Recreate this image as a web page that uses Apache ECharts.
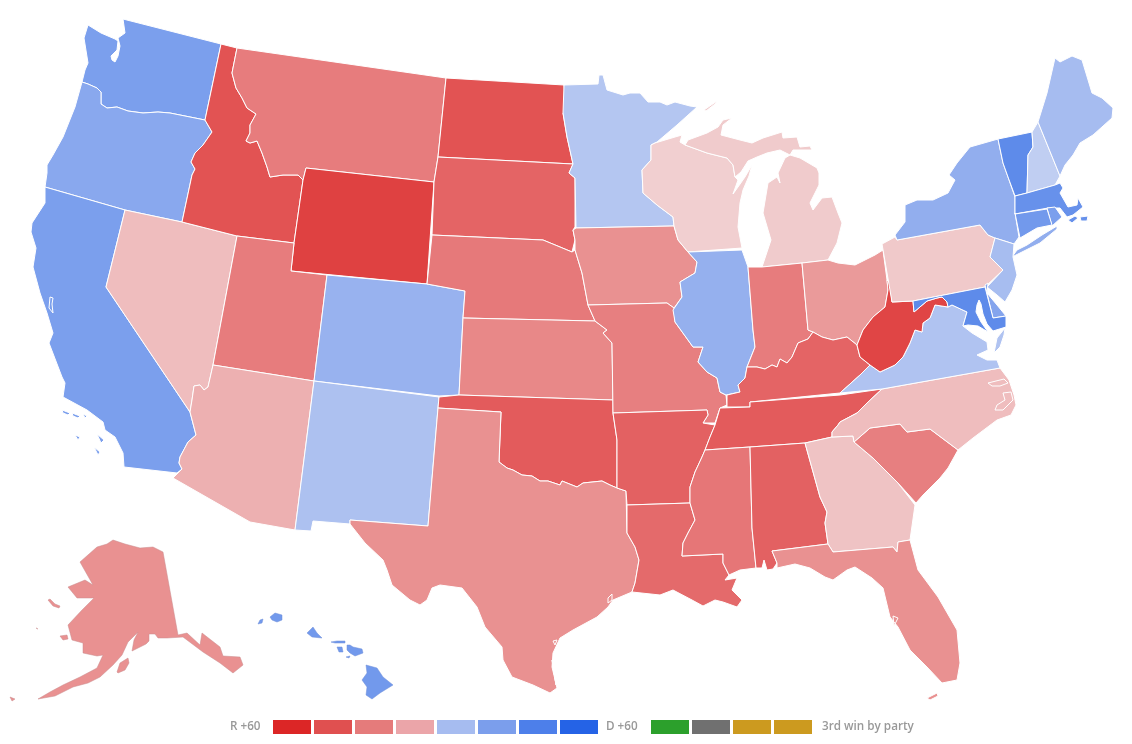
<!DOCTYPE html>
<html>
<head>
<meta charset="utf-8">
<script src="https://cdn.jsdelivr.net/npm/echarts@6/dist/echarts.min.js"></script>
<style>html,body{margin:0;padding:0;background:#fff}#c{width:1132px;height:744px}</style>
</head>
<body>
<div id="c"></div>
<script>
// margin of each state, read from its shade: negative = Republican, positive = Democratic
const stateNames = ['Washington','Oregon','California','Nevada','Idaho','Montana','Wyoming','Utah','Arizona','Colorado','New Mexico','North Dakota','South Dakota','Nebraska','Kansas','Oklahoma','Texas','Minnesota','Iowa','Missouri','Arkansas','Louisiana','Wisconsin','Illinois','Michigan','Indiana','Ohio','Kentucky','Tennessee','Mississippi','Alabama','Georgia','Florida','South Carolina','North Carolina','Virginia','West Virginia','Pennsylvania','New York','Vermont','New Hampshire','Maine','Massachusetts','Rhode Island','Connecticut','New Jersey','Delaware','Maryland','Alaska','Hawaii'];
const stateMargins = [30,25,30,-9,-45,-31,-51,-31,-13.5,20,12.5,-45,-39,-32,-27,-42,-24,10,-24,-30,-40,-37,-3,21,-4.5,-31,-21,-39,-42,-33,-40,-7,-24,-30,-9,11.5,-49.5,-5,22,40,6,15,37,30,33,14.6,27,40,-24,33];
const legendLeft = 'R +60';
const legendMid = 'D +60';
const legendRight = '3rd win by party';
const legendShades = ['#dc2626','#e05050','#e57b7b','#eba5a9','#a6bcf0','#7b9eec','#4d7fea','#2563e6'];
const legendThird = ['#2ca02c','#707070','#cc9a1f','#cc9a1f'];
const redStops = [[0,242,216,217],[60,220,38,38]];
const blueStops = [[0,209,218,243],[60,37,99,230]];

// Outlines of the states
const stateShapes = {
'Washington':['123,19 221,44 205,120 170,113 158,112 143,113 128,111 117,107 107,108 101,104 101,92 97,88 88,84 82,82 85,70 88,63 84,38 88,25 101,33 115,39 118,41 117,50 111,56 112,60 115,62 118,56 120,46 118,38 125,33'],
'Oregon':['82,82 88,84 97,88 101,92 101,104 107,108 117,107 128,111 143,113 158,112 170,113 205,120 212,132 203,145 195,153 191,162 195,169 192,175 182,222 125,210 45,187 47,173 47,165 53,155 63,137 75,107'],
'California':['45,187 125,210 106,287 190,412 196,435 188,442 180,457 179,463 182,469 177,473 124,467 123,453 115,437 105,430 103,422 87,410 63,397 65,383 62,377 49,343 53,333 47,313 40,293 33,267 36,248 31,232 32,223 45,203;50,297 53,298 52,304 53,313 49,308','62,410 70,413 68,415 63,413','72,413 80,416 78,418 73,416','83,414 87,416 85,418','75,435 80,437 78,440','97,434 104,440 101,443','94,447 100,452 98,455'],
'Nevada':['125,210 182,222 237,236 213,365 208,387 204,390 200,385 194,386 192,400 190,412 106,287'],
'Idaho':['221,44 237,48 232,73 236,88 242,98 247,108 256,114 250,125 250,133 246,141 250,143 257,141 262,153 267,167 270,177 283,175 298,175 303,180 294,243 237,236 182,222 192,175 195,169 191,162 195,153 203,145 212,132 205,120'],
'Montana':['237,48 446,78 438,157 434,182 306,168 303,180 298,175 283,175 270,177 267,167 262,153 257,141 250,143 246,141 250,133 250,125 256,114 247,108 242,98 236,88 232,73'],
'Wyoming':['306,168 434,182 427,284 291,271 294,243 303,180'],
'Utah':['237,236 294,243 291,271 327,275 314,381 213,365'],
'Arizona':['213,365 314,381 295,530 250,522 173,478 182,469 179,463 180,457 188,442 196,435 190,412 192,400 194,386 200,385 204,390 208,387'],
'Colorado':['327,275 427,284 465,291 463,318 459,395 439,396 314,381'],
'New Mexico':['314,381 439,397 438,408 428,526 350,520 350,524 313,521 311,531 295,530'],
'North Dakota':['446,78 564,85 567,110 563,113 567,137 573,164 438,157'],
'South Dakota':['438,157 573,164 569,173 575,178 575,227 573,230 575,240 572,252 560,247 543,240 432,235 434,182'],
'Nebraska':['432,235 543,240 560,247 572,252 575,250 582,273 588,305 595,321 463,318 465,291 427,284'],
'Kansas':['463,318 595,321 603,327 607,330 603,333 612,343 613,400 459,395'],
'Oklahoma':['439,397 459,395 613,400 613,413 617,440 617,488 610,485 602,481 583,483 577,487 562,481 560,485 548,481 540,481 532,476 522,475 513,470 507,468 499,462 501,412 438,408'],
'Texas':['438,408 501,412 499,462 507,468 513,470 522,475 532,476 540,481 548,481 560,485 562,481 577,487 583,483 602,481 610,485 617,488 626,491 627,533 635,547 639,560 635,583 632,592 613,600 608,607 597,617 573,630 560,638 553,653 552,667 557,688 550,693 533,685 512,677 503,660 502,647 485,627 477,607 462,588 440,585 432,588 427,600 420,605 410,600 392,585 387,570 383,560 365,543 350,524 350,520 428,526;608,598 612,594 612,600 608,603;552,660 553,660 556,685 555,685;553,641 557,640 555,645'],
'Minnesota':['564,85 598,84 599,75 603,75 607,90 623,95 630,93 640,93 648,102 660,102 667,105 675,102 690,106 697,107 677,125 657,142 651,145 651,160 642,170 643,193 657,205 673,217 674,226 576,228 575,178 569,173 573,164 567,137 563,113'],
'Iowa':['576,228 674,226 678,240 688,252 697,262 695,273 680,282 682,297 674,308 667,303 588,305 582,273 575,250 575,240 573,230'],
'Missouri':['588,305 667,303 674,308 675,322 693,347 703,347 698,362 707,372 717,378 720,392 726,395 727,405 720,408 715,423 703,423 708,415 707,410 613,413 612,343 603,333 607,330 603,327 595,321'],
'Arkansas':['613,413 707,410 708,415 703,423 715,425 710,437 705,450 702,457 695,472 690,487 690,503 627,505 626,491 617,488 617,440'],
'Louisiana':['627,505 690,503 695,520 688,533 683,543 682,556 723,554 723,563 729,575 725,580 737,578 732,590 742,600 737,607 723,602 715,600 703,606 692,600 673,590 660,595 632,592 635,583 639,560 635,547 627,533'],
'Wisconsin':['651,145 655,143 675,137 682,135 680,142 685,145 707,153 727,158 733,165 735,177 738,180 733,194 738,187 745,177 752,165 749,176 743,190 740,203 738,227 742,248 688,252 678,240 674,226 673,217 657,205 643,193 642,170 651,160'],
'Illinois':['688,252 742,250 748,267 753,330 755,347 747,367 745,378 738,385 740,392 726,395 720,392 717,378 707,372 698,362 703,347 693,347 675,322 673,310 682,297 680,282 695,273 697,262'],
'Michigan':['685,145 688,140 707,133 718,127 723,120 732,118 723,125 721,135 740,140 752,143 763,138 782,132 783,138 797,137 800,147 810,146 812,150 793,150 790,155 780,150 767,153 757,157 748,161 741,172 735,177 733,165 727,158 707,153','790,155 800,158 817,168 819,173 819,185 810,203 813,210 822,198 832,197 838,213 842,223 837,243 828,260 802,263 762,267 771,240 763,213 768,183 777,177 780,183 778,173 785,158','704,110 717,101 715,104 706,111'],
'Indiana':['748,267 762,267 802,263 808,330 813,332 808,339 798,343 792,357 787,363 780,359 777,367 772,365 765,369 757,367 747,367 755,347 753,330'],
'Ohio':['802,263 828,260 838,263 855,265 875,255 883,250 887,280 888,290 885,307 873,317 863,330 857,345 847,337 833,340 822,337 813,332 808,330'],
'Kentucky':['727,407 727,395 740,392 738,385 745,378 747,367 757,367 765,369 772,365 777,367 780,359 787,363 792,357 798,343 808,339 813,332 822,337 833,340 847,337 857,345 860,357 870,365 860,375 840,393 750,402 750,407'],
'Tennessee':['720,408 750,407 750,402 840,395 882,389 867,403 857,413 840,422 838,425 832,432 832,437 805,443 750,447 705,450 710,437 715,425'],
'Mississippi':['705,450 750,447 752,528 756,568 740,570 729,575 723,563 723,554 682,556 683,543 688,533 695,520 690,503 690,487 695,472 702,457'],
'Alabama':['750,447 805,443 820,497 827,512 825,523 828,544 772,551 777,563 773,569 767,570 764,560 762,568 756,568 752,528'],
'Georgia':['805,443 832,437 853,436 854,442 873,458 898,483 915,505 910,540 898,542 897,552 893,547 833,552 828,544 825,523 827,512 820,497'],
'Florida':['772,551 828,544 833,552 893,547 897,552 898,542 910,540 918,570 938,597 957,630 960,663 957,680 942,683 927,667 910,650 898,627 890,617 883,588 872,578 855,567 847,570 833,580 825,577 810,568 795,564 777,568 777,563;893,616 898,618 894,626','927,698 937,693 938,696 930,700'],
'South Carolina':['854,442 870,428 900,424 907,432 930,429 958,450 948,468 940,478 923,495 916,503 898,483 873,458'],
'North Carolina':['882,389 1000,368 1009,380 1014,395 1016,405 1011,415 997,420 973,438 958,450 930,429 907,432 900,424 870,428 854,442 853,436 832,437 832,432 838,425 840,422 857,413 867,403;988,383 1004,379 1008,383 1000,386 992,386;1003,393 1011,392 1013,400 1003,410 995,410 997,405 1005,400'],
'Virginia':['948,307 952,305 967,312 963,326 972,333 987,342 988,350 977,355 987,360 997,360 1000,368 882,389 840,393 860,375 870,365 880,372 895,365 903,357 910,343 915,330 922,332 923,323 930,318 935,305','1005,328 1004,335 1000,347 994,353 997,338'],
'West Virginia':['887,280 890,283 892,302 913,301 914,312 927,301 937,298 942,297 947,302 948,307 935,305 930,318 923,323 922,332 915,330 910,343 903,357 895,365 880,372 870,365 860,357 857,345 863,330 873,317 885,307 888,290'],
'Pennsylvania':['882,244 895,237 897,240 980,225 988,235 995,238 990,257 1003,270 985,287 913,301 892,302'],
'New York':['897,240 895,235 905,222 905,205 917,200 933,200 948,193 955,180 949,175 957,163 970,147 998,139 1003,163 1008,177 1015,197 1015,213 1019,237 1014,244 995,238 988,235 980,225','1012,257 1017,250 1027,245 1042,235 1057,226 1057,229 1040,243 1020,253'],
'Vermont':['998,139 1032,132 1033,147 1028,155 1027,193 1015,196 1008,177 1003,163'],
'New Hampshire':['1032,132 1038,122 1060,176 1055,185 1027,193 1028,155 1033,147'],
'Maine':['1038,122 1047,93 1055,58 1060,62 1072,56 1082,60 1092,93 1102,98 1113,108 1112,118 1093,135 1080,143 1073,155 1065,165 1060,176'],
'Massachusetts':['1015,196 1027,193 1055,185 1060,183 1063,188 1060,193 1068,207 1077,205 1078,198 1083,207 1073,215 1067,217 1060,208 1048,208 1015,214','1068,220 1075,216 1078,218 1072,223','1080,217 1088,216 1087,221 1081,221'],
'Rhode Island':['1047,208 1055,207 1062,217 1052,226'],
'Connecticut':['1015,214 1047,209 1052,225 1037,228 1020,238 1015,213'],
'New Jersey':['995,238 1014,244 1013,257 1017,275 1012,290 1005,302 997,295 987,287 1003,270 990,257'],
'Delaware':['985,285 988,283 987,293 997,305 1006,316 993,318'],
'Maryland':['913,301 985,287 993,318 1006,316 1006,327 993,331 987,324 983,314 981,304 979,300 977,305 976,312 981,322 988,332 978,326 968,325 963,326 967,312 952,305 948,307 947,302 942,297 937,298 927,301 914,312'],
'Alaska':['113,540 125,544 140,548 153,547 163,552 178,635 187,633 200,645 202,633 220,647 223,656 240,657 243,665 233,673 220,663 203,652 183,637 167,638 158,638 155,634 149,634 149,641 146,644 132,651 134,640 138,632 128,642 122,655 113,665 100,677 88,683 73,687 55,696 38,699 50,692 63,685 80,677 97,668 103,655 97,656 83,653 83,643 72,640 68,625 82,610 94,598 77,598 68,587 85,580 93,585 80,562 97,547 107,544','48,600 50,599 55,604 60,606 59,608 53,606','60,636 67,635 68,639 63,640','117,672 120,663 128,658 129,663 125,670 118,673','10,697 15,699 12,701','36,628 38,629 37,630'],
'Hawaii':['270,617 275,613 282,615 282,620 277,622 272,620','258,624 260,620 263,619 262,623','307,633 313,627 317,633 322,638 312,637','331,642 337,641 345,641 345,643 335,643','337,647 342,647 343,652 339,652','347,645 350,645 353,647 362,649 363,653 355,656 350,653 347,650','346,657 350,656 349,658','366,665 377,668 383,677 393,685 380,693 372,699 366,695 367,687 362,680 367,673']
};
const thinEdged = {'Alaska':'#c98a8c','Hawaii':'#6f8fd8'};

function parseRing(s){return s.trim().split(/\s+/).map(function(p){return p.split(',').map(Number);});}
function closeRing(r){r.push(r[0].slice());return r;}
const geoFeatures = stateNames.map(function(name){
  return {type:'Feature',properties:{name:name},geometry:{type:'MultiPolygon',coordinates:stateShapes[name].map(function(part){
    return part.split(';').map(function(r){return closeRing(parseRing(r));});
  })}};
});
echarts.registerMap('usa',{type:'FeatureCollection',features:geoFeatures});

function shade(v){
  const st = v<0 ? redStops : blueStops, t = Math.min(Math.abs(v),60)/60;
  const c = [1,2,3].map(function(i){return Math.round(st[0][i]+(st[1][i]-st[0][i])*t);});
  return 'rgb('+c.join(',')+')';
}

const chart = echarts.init(document.getElementById('c'),null,{renderer:'canvas'});
const swatchY = 720, swatchH = 14, swatchW = 38, swatchStep = 41;
const textStyle = function(x,t){return {type:'text',x:x,y:swatchY+7,style:{text:t,fill:'#999',font:'600 11.7px "Open Sans"',textAlign:'left',textVerticalAlign:'middle'}};};
const gfx = [textStyle(230,legendLeft),textStyle(606,legendMid),textStyle(822,legendRight)];
legendShades.forEach(function(c,i){gfx.push({type:'rect',shape:{x:273+i*swatchStep,y:swatchY,width:swatchW,height:swatchH},style:{fill:c}});});
legendThird.forEach(function(c,i){gfx.push({type:'rect',shape:{x:651+i*swatchStep,y:swatchY,width:swatchW,height:swatchH},style:{fill:c}});});

chart.setOption({
  animation:false,
  backgroundColor:'#fff',
  graphic:gfx,
  series:[{
    type:'map',map:'usa',roam:false,silent:true,selectedMode:false,
    projection:{project:function(p){return p;},unproject:function(p){return p;}},
    boundingCoords:[[0,0],[1132,744]],
    left:0,top:0,width:1132,height:744,
    label:{show:false},emphasis:{disabled:true},
    itemStyle:{borderColor:'#fff',borderWidth:1},
    data:stateNames.map(function(n,i){
      const style = {areaColor:shade(stateMargins[i])};
      if(thinEdged[n]){style.borderColor = thinEdged[n];style.borderWidth = 0.5;}
      return {name:n,value:stateMargins[i],itemStyle:style};
    })
  }]
});
</script>
</body>
</html>
